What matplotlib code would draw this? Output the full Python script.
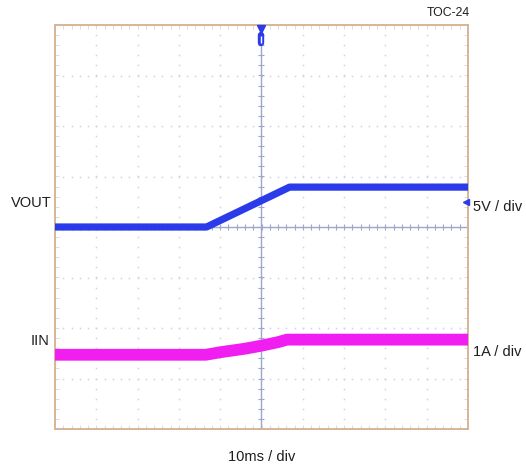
import matplotlib
matplotlib.use("Agg")
import matplotlib.pyplot as plt
import numpy as np

plt.rcParams['font.family'] = ['Liberation Sans', 'DejaVu Sans']

# ---- data (scope capture) ----
time_div_ms = 10.0          # 10 ms / div
vout_div_V = 5.0            # 5 V / div
iin_div_A = 1.0             # 1 A / div
vout_offset_div = 0.0
iin_offset_div = -2.53

vout_t_ms = [-50, -13.3, 6.8, 50]
vout_V = [0.0, 0.0, 3.95, 3.95]

iin_t_ms = [-50, -13.5, -10, -4, 0, 4, 6.2, 50]
iin_A = [0.0, 0.0, 0.05, 0.12, 0.18, 0.25, 0.30, 0.30]

ch_labels = ["VOUT", "IIN"]
scale_labels = ["5V / div", "1A / div"]
x_label = "10ms / div"
corner_label = "TOC-24"

# ---- figure ----
fig = plt.figure(figsize=(5.26, 4.68), dpi=100)
ax = fig.add_axes([55/526, 1-429/468, 413/526, 404/468])
ax.set_xlim(-5, 5)
ax.set_ylim(-4, 4)

grid_c = '#cdd2e4'
center_c = '#9ea6cf'
frame_c = '#d6b596'

# dotted grid (dots every 1/5 division)
mx = np.arange(-5, 5.01, 0.2)
my = np.arange(-4, 4.01, 0.2)
for gx in range(-4, 5):
    if gx == 0:
        continue
    ax.plot(np.full_like(my, gx), my, ls='none', marker='s', ms=1.1, mew=0,
            color=grid_c, zorder=1)
for gy in range(-3, 4):
    if gy == 0:
        continue
    ax.plot(mx, np.full_like(mx, gy), ls='none', marker='s', ms=1.1, mew=0,
            color=grid_c, zorder=1)

# center cross with minor ticks
ax.axhline(0, color=center_c, lw=1.0, zorder=2)
ax.axvline(0, color=center_c, lw=1.0, zorder=2)
ax.plot(mx, np.zeros_like(mx), ls='none', marker='|', ms=4, mew=0.8, color=center_c, zorder=2)
ax.plot(np.zeros_like(my), my, ls='none', marker='_', ms=4, mew=0.8, color=center_c, zorder=2)

# edge minor ticks
ax.set_xticks(mx)
ax.set_yticks(my)
ax.tick_params(direction='in', length=3, width=0.6, color='#d3d6e0',
               top=True, right=True, labelbottom=False, labelleft=False)
for s in ax.spines.values():
    s.set_color(frame_c)
    s.set_linewidth(1.4)

# traces
xv = np.array(vout_t_ms) / time_div_ms
yv = np.array(vout_V) / vout_div_V + vout_offset_div
ax.plot(xv, yv, color='#2b3bea', lw=5.2, solid_capstyle='butt', zorder=5)

xi = np.array(iin_t_ms) / time_div_ms
yi = np.array(iin_A) / iin_div_A + iin_offset_div
ax.plot(xi, yi, color='#f01ef0', lw=8.5, solid_capstyle='butt', zorder=5)

# markers: trigger, channel ref
ax.plot([0], [3.93], marker='v', ms=6, color='#2b3bea', clip_on=False, zorder=6)
ax.plot([0, 0], [3.64, 3.80], color='#2b3bea', lw=4.6, solid_capstyle='round', zorder=6)
ax.plot([0, 0], [3.65, 3.78], color='white', lw=1.0, solid_capstyle='butt', zorder=7)
ax.plot([4.95], [0.5], marker='<', ms=4, color='#2b3bea', clip_on=False, zorder=6)

# texts
fs = 10.5
tc = '#1e1e1e'
fig.text(52/526, 1-203/468, ch_labels[0], ha='right', va='center', fontsize=fs, color=tc)
fig.text(50/526, 1-341/468, ch_labels[1], ha='right', va='center', fontsize=fs, color=tc)
fig.text(473/526, 1-207/468, scale_labels[0], ha='left', va='center', fontsize=fs, color=tc)
fig.text(473/526, 1-352/468, scale_labels[1], ha='left', va='center', fontsize=fs, color=tc)
fig.text(262/526, 1-457/468, x_label, ha='center', va='center', fontsize=fs, color=tc)
fig.text(470/526, 1-13/468, corner_label, ha='right', va='center', fontsize=8.8, color=tc)

fig.savefig("out.png", dpi=100)
